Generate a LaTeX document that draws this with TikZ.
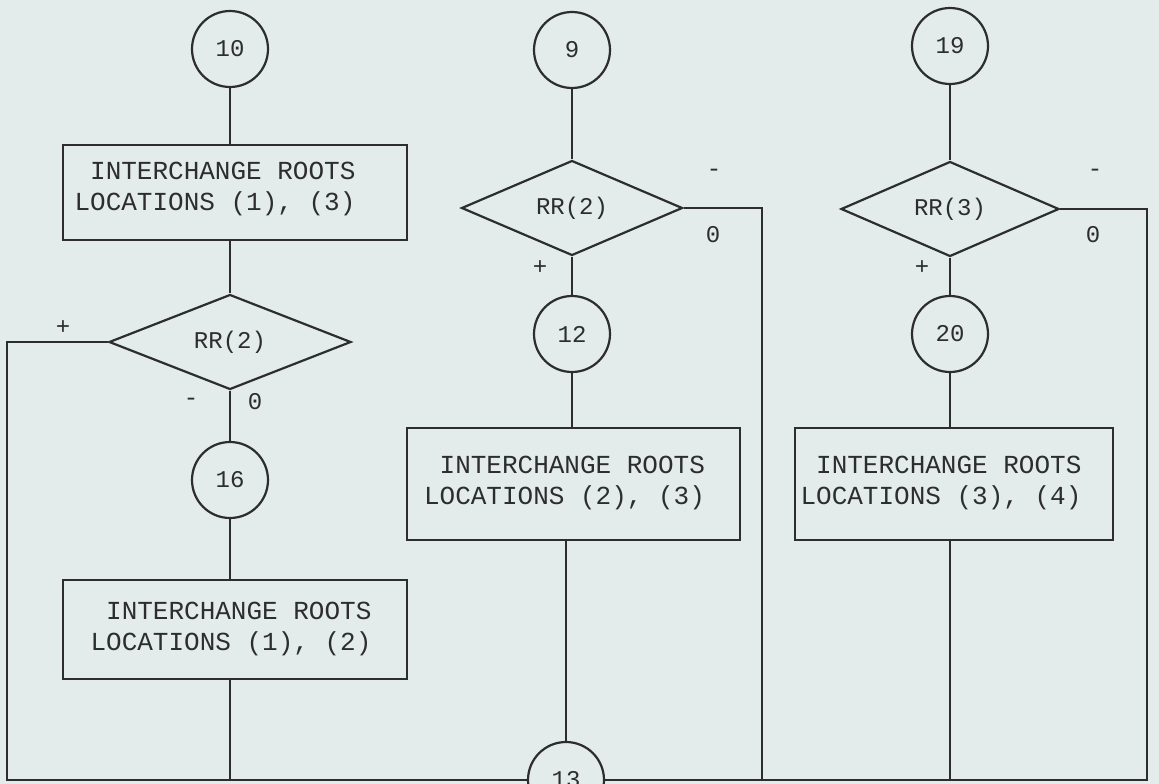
\documentclass[tikz,border=0pt]{standalone}
\usepackage{fontspec}
\setmonofont{Liberation Mono}
\usetikzlibrary{shapes.geometric}
\definecolor{paper}{RGB}{227,235,235}
\definecolor{ink}{RGB}{45,45,45}

\begin{document}
\begin{tikzpicture}[x=1pt,y=-1pt,line width=2.2pt,color=ink,
  every node/.style={font=\ttfamily\fontsize{24}{29}\selectfont},
  conn/.style={circle,draw,fill=paper,minimum size=76pt,inner sep=0pt},
  decision/.style={diamond,draw,aspect=2.4,minimum height=95pt,inner sep=0pt},
  process/.style={rectangle,draw,inner sep=0pt},
  boxtext/.style={font=\ttfamily\fontsize{26}{31}\selectfont,align=right,inner sep=0pt}]
\fill[paper] (0,0) rectangle (1159,784);
\useasboundingbox (0,0) rectangle (1159,784);
% left column
\node[conn] (c10) at (230,49) {10};
\node[process,minimum width=344pt,minimum height=95pt,
  label={[boxtext,xshift=-20pt,yshift=4pt]center:{INTERCHANGE ROOTS\\LOCATIONS (1), (3)}}] (box1) at (235,192.5) {};
\node[decision,minimum width=242pt] (dec1) at (230,342) {RR(2)};
\node[conn] (c16) at (230,480) {16};
\node[process,minimum width=344pt,minimum height=99pt,
  label={[boxtext,xshift=-4pt,yshift=1pt]center:{INTERCHANGE ROOTS\\LOCATIONS (1), (2)}}] (box2) at (235,629.5) {};
\node (d1plus) at (63,328) {+};
\node (d1minus) at (191,402) {-};
\node (d1zero) at (255,402) {0};
% middle column
\node[conn] (c9) at (572,50) {9};
\node[decision,minimum width=221pt] (dec2) at (572,208) {RR(2)};
\node[conn] (c12) at (572,334) {12};
\node[process,minimum width=333pt,minimum height=112pt,
  label={[boxtext,xshift=-9pt,yshift=1pt]center:{INTERCHANGE ROOTS\\LOCATIONS (2), (3)}}] (box3) at (573.5,484) {};
\node[conn] (c13) at (566,780) {13};
\node (d2minus) at (714,173) {-};
\node (d2zero) at (713,235) {0};
\node (d2plus) at (540,268) {+};
% right column
\node[conn] (c19) at (950,46) {19};
\node[decision,minimum width=218pt] (dec3) at (950,209) {RR(3)};
\node[conn] (c20) at (950,334) {20};
\node[process,minimum width=318pt,minimum height=112pt,
  label={[boxtext,xshift=-13pt,yshift=1pt]center:{INTERCHANGE ROOTS\\LOCATIONS (3), (4)}}] (box4) at (954,484) {};
\node (d3minus) at (1095,173) {-};
\node (d3zero) at (1093,235) {0};
\node (d3plus) at (922,268) {+};
% corners of the return line
\coordinate (bl) at (7,780);
\coordinate (bm) at (762,780);
\coordinate (br) at (1147,780);
% connectors
\draw (c10) -- (c10 |- box1.north);
\draw (dec1.north |- box1.south) -- (dec1);
\draw (dec1) -- (c16);
\draw (c16) -- (c16 |- box2.north);
\draw (c16 |- box2.south) -- (c16 |- bl);
\draw (dec1.west) -| (bl) -- (c13);
\draw (c9) -- (dec2);
\draw (dec2) -- (c12);
\draw (c12) -- (c12 |- box3.north);
\draw (c13 |- box3.south) -- (c13);
\draw (dec2.east) -| (bm);
\draw (c19) -- (dec3);
\draw (dec3) -- (c20);
\draw (c20) -- (c20 |- box4.north);
\draw (c20 |- box4.south) -- (c20 |- br);
\draw (dec3.east) -| (br) -- (c13);
\end{tikzpicture}
\end{document}
